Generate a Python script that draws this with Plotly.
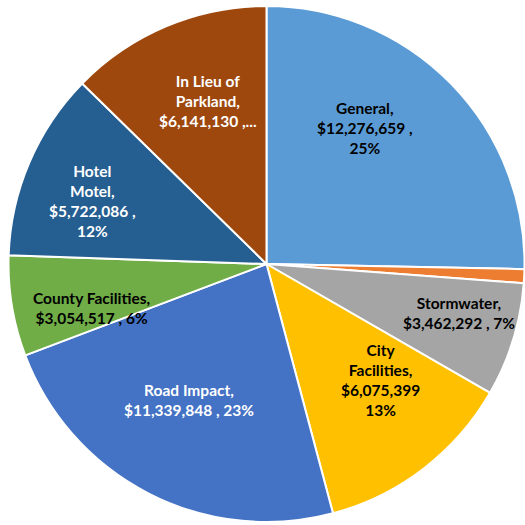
import plotly.graph_objects as go

categories = ["General", "Other", "Stormwater", "City Facilities", "Road Impact",
              "County Facilities", "Hotel Motel", "In Lieu of Parkland"]
values = [12276659, 420000, 3462292, 6075399, 11339848, 3054517, 5722086, 6141130]
label_texts = [
    "General,<br>$12,276,659 ,<br>25%",
    "",
    "Stormwater,<br>$3,462,292 , 7%",
    "City<br>Facilities,<br>$6,075,399<br>13%",
    "Road Impact,<br>$11,339,848 , 23%",
    "County Facilities,<br>$3,054,517 , 6%",
    "Hotel<br>Motel,<br>$5,722,086 ,<br>12%",
    "In Lieu of<br>Parkland,<br>$6,141,130 ,...",
]
colors = ["#5B9BD5", "#ED7D31", "#A5A5A5", "#FFC000", "#4472C4",
          "#70AD47", "#255E91", "#9E480E"]
text_colors = ["black", "black", "black", "black", "white", "black", "white", "white"]
# label centres in pixel space of the 525x525 page
label_px = [(365, 128), None, (459, 313), (380, 380), (189, 400),
            (91, 308), (92, 201), (208, 101)]

W = H = 525
fig = go.Figure(go.Pie(
    labels=categories, values=values, sort=False, direction="clockwise",
    rotation=0, textinfo="none", hoverinfo="label+value+percent",
    marker=dict(colors=colors, line=dict(color="white", width=2)),
    domain=dict(x=[8 / W, 1.0], y=[1 - 522 / H, 1 - 6 / H]),
    showlegend=False,
))

for txt, col, pos in zip(label_texts, text_colors, label_px):
    if pos is None or not txt:
        continue
    fig.add_annotation(
        x=pos[0] / W, y=1 - pos[1] / H, xref="paper", yref="paper",
        text="<b>" + txt + "</b>", showarrow=False, align="center",
        font=dict(family="Lato", size=15.5, color=col),
        xanchor="center", yanchor="middle",
    )

fig.update_layout(
    width=W, height=H, margin=dict(l=0, r=0, t=0, b=0),
    paper_bgcolor="white", plot_bgcolor="white",
)
fig.write_html("out.html", config={"displayModeBar": False},
               post_script="document.body.style.margin='0';document.body.style.overflow='hidden';")
